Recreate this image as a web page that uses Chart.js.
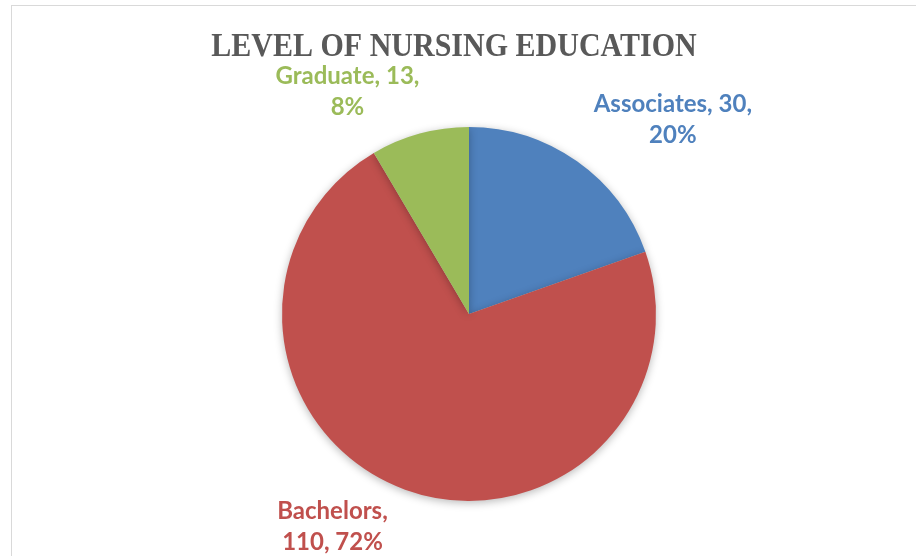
<!DOCTYPE html>
<html>
<head>
<meta charset="utf-8">
<script src="https://cdn.jsdelivr.net/npm/chart.js@4/dist/chart.umd.min.js"></script>
<style>
  html, body { margin: 0; padding: 0; background: #fff; }
  #wrap { position: relative; width: 916px; height: 556px; overflow: hidden; }
  #frame { position: absolute; left: 11px; top: 5px; width: 920px; height: 560px;
           border-left: 1px solid #d9d9d9; border-top: 1px solid #d9d9d9; box-sizing: border-box; }
  canvas { position: absolute; left: 0; top: 0; }
</style>
</head>
<body>
<div id="wrap">
  <div id="frame"></div>
  <canvas id="c" width="916" height="556"></canvas>
</div>
<script>
const chartTitle = "LEVEL OF NURSING EDUCATION";
const categories = ["Associates", "Bachelors", "Graduate"];
const counts = [30, 110, 13];
const percentLabels = ["20%", "72%", "8%"];
const sliceColors = ["#4F81BD", "#C0504D", "#9BBB59"];

// label line breaks (as in the reference) and placement relative to pie centre, in radii
const labelLines = [
  [categories[0] + ", " + counts[0] + ",", percentLabels[0]],
  [categories[1] + ",", counts[1] + ", " + percentLabels[1]],
  [categories[2] + ", " + counts[2] + ",", percentLabels[2]]
];
const labelAnchors = [[1.09, -1.04], [-0.73, 1.14], [-0.65, -1.19]];

const shadowPlugin = {
  id: 'pieShadow',
  beforeDatasetsDraw(chart) {
    const ctx = chart.ctx;
    ctx.save();
    ctx.shadowColor = 'rgba(0,0,0,0.28)';
    ctx.shadowBlur = 9;
    ctx.shadowOffsetX = 0;
    ctx.shadowOffsetY = 2;
  },
  afterDatasetsDraw(chart) {
    chart.ctx.restore();
  }
};

const textPlugin = {
  id: 'texts',
  afterDraw(chart) {
    const ctx = chart.ctx;
    ctx.save();
    // title
    ctx.fillStyle = '#595959';
    ctx.font = 'bold 30px "Liberation Serif", "Times New Roman", serif';
    ctx.textAlign = 'center';
    ctx.textBaseline = 'alphabetic';
    ctx.save();
    ctx.translate(454, 56);
    ctx.scale(1, 1.12);
    ctx.fillText(chartTitle, 0, 0);
    ctx.restore();
    // data labels
    const meta = chart.getDatasetMeta(0);
    ctx.font = 'bold 24px Lato, "Open Sans", sans-serif';
    ctx.textBaseline = 'middle';
    meta.data.forEach((arc, i) => {
      const p = arc.getProps(['x', 'y', 'outerRadius'], true);
      const cx = p.x + labelAnchors[i][0] * p.outerRadius;
      const cy = p.y + labelAnchors[i][1] * p.outerRadius;
      ctx.fillStyle = sliceColors[i];
      const lh = 31;
      const lines = labelLines[i];
      lines.forEach((t, k) => {
        ctx.fillText(t, cx, cy + (k - (lines.length - 1) / 2) * lh);
      });
    });
    ctx.restore();
  }
};

new Chart(document.getElementById('c'), {
  type: 'pie',
  data: {
    labels: categories,
    datasets: [{
      data: counts,
      backgroundColor: sliceColors,
      borderWidth: 0,
      hoverOffset: 0
    }]
  },
  options: {
    responsive: false,
    animation: false,
    events: [],
    layout: { padding: { left: 282, right: 260, top: 127, bottom: 55 } },
    plugins: {
      legend: { display: false },
      title: { display: false },
      tooltip: { enabled: false }
    }
  },
  plugins: [shadowPlugin, textPlugin]
});
</script>
</body>
</html>
